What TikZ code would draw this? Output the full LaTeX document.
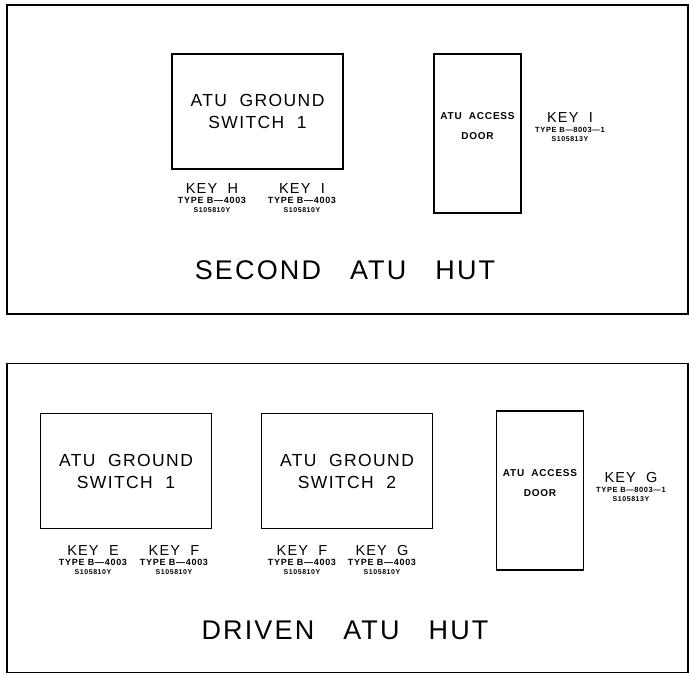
\documentclass[tikz,border=0pt]{standalone}
\usepackage{fontspec}
\setmainfont{Liberation Sans}
\newfontfamily\cadwide[LetterSpace=8]{Liberation Sans}
\newfontfamily\cadhut[LetterSpace=8]{Liberation Sans}
\tikzset{
  hut/.style={draw, line width=1.8pt, minimum width=681pt, minimum height=309pt, inner sep=0pt},
  swbox/.style={draw, line width=1.1pt, minimum width=171pt, minimum height=115pt, inner sep=0pt, align=center, font=\cadwide\fontsize{17.5}{22}\selectfont},
  doorbox/.style={draw, line width=1.1pt, minimum width=87pt, minimum height=159pt, inner sep=0pt},
  doortxt/.style={align=center, font=\cadwide\fontsize{10}{20}\selectfont\bfseries, inner sep=0pt},
  keytxt/.style={align=center, inner sep=0pt},
  huttxt/.style={font=\cadhut\fontsize{27}{30}\selectfont, inner sep=0pt}
}
% #1 key letter, #2 type number, #3 part number, #4 type font size
\newcommand{\keylbl}[4]{{\cadwide\fontsize{14.5}{14}\selectfont KEY\ \ #1}\\[-2pt]{\cadwide\fontsize{#4}{#4}\selectfont\bfseries TYPE\ B—#2}\\[-2.5pt]{\cadwide\fontsize{7}{7}\selectfont\bfseries #3}}
\begin{document}
\begin{tikzpicture}[x=1pt,y=-1pt]
\useasboundingbox (0,0) rectangle (689,675);
% top hut
\node[hut] (hut1) at (347.5,159.5) {};
\node[swbox] (sw1a) at (257.5,111.5) {ATU\ \ GROUND\\SWITCH\ \ 1};
\node[doorbox] (door1) at (477.5,133.5) {};
\node[doortxt] (door1t) at (477.5,126) {ATU\ \ ACCESS\\DOOR};
\node[keytxt] (keyH) at (212,198) {\keylbl{H}{4003}{S105810Y}{9}};
\node[keytxt] (keyI1) at (302,198) {\keylbl{I}{4003}{S105810Y}{9}};
\node[keytxt] (keyI2) at (570,127) {\keylbl{I}{8003—1}{S105813Y}{7.5}};
\node[huttxt] (t1) at (345,270) {SECOND\ \ \ ATU\ \ \ HUT};
% bottom hut
\node[hut] (hut2) at (347.5,518) {};
\node[swbox] (sw2a) at (126,471) {ATU\ \ GROUND\\SWITCH\ \ 1};
\node[swbox] (sw2b) at (347,471) {ATU\ \ GROUND\\SWITCH\ \ 2};
\node[doorbox] (door2) at (540,490.5) {};
\node[doortxt] (door2t) at (540,483) {ATU\ \ ACCESS\\DOOR};
\node[keytxt] (keyE) at (93,560) {\keylbl{E}{4003}{S105810Y}{9}};
\node[keytxt] (keyF1) at (174,560) {\keylbl{F}{4003}{S105810Y}{9}};
\node[keytxt] (keyF2) at (302,560) {\keylbl{F}{4003}{S105810Y}{9}};
\node[keytxt] (keyG1) at (382,560) {\keylbl{G}{4003}{S105810Y}{9}};
\node[keytxt] (keyG2) at (631,487) {\keylbl{G}{8003—1}{S105813Y}{7.5}};
\node[huttxt] (t2) at (345,630) {DRIVEN\ \ \ ATU\ \ \ HUT};
\end{tikzpicture}
\end{document}
